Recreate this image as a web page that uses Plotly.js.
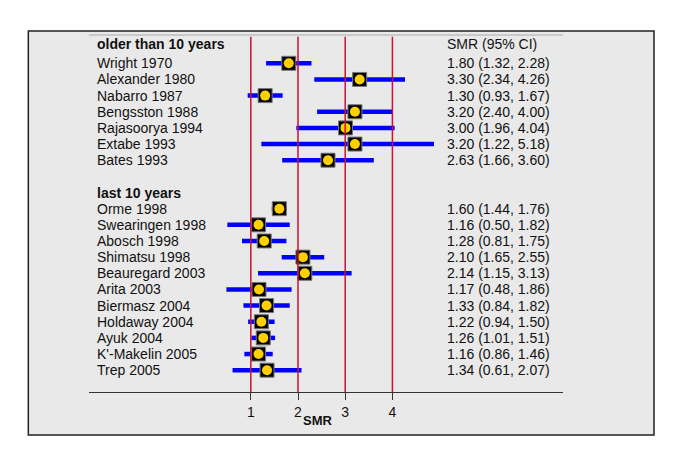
<!DOCTYPE html>
<html>
<head>
<meta charset="utf-8">
<script src="https://cdn.plot.ly/plotly-3.0.1.min.js"></script>
<style>html,body{margin:0;padding:0;background:#fff;}#chart{width:685px;height:462px;}</style>
</head>
<body>
<div id="chart"></div>
<script>
// ---- data ----
const groupTitles = ["older than 10 years", "last 10 years"];
const olderStudies = ["Wright 1970", "Alexander 1980", "Nabarro 1987", "Bengsston 1988", "Rajasoorya 1994", "Extabe 1993", "Bates 1993"];
const olderSMR = [1.80, 3.30, 1.30, 3.20, 3.00, 3.20, 2.63];
const olderLo  = [1.32, 2.34, 0.93, 2.40, 1.96, 1.22, 1.66];
const olderHi  = [2.28, 4.26, 1.67, 4.00, 4.04, 5.18, 3.60];
const recentStudies = ["Orme 1998", "Swearingen 1998", "Abosch 1998", "Shimatsu 1998", "Beauregard 2003", "Arita 2003", "Biermasz 2004", "Holdaway 2004", "Ayuk 2004", "K'-Makelin 2005", "Trep 2005"];
const recentSMR = [1.60, 1.16, 1.28, 2.10, 2.14, 1.17, 1.33, 1.22, 1.26, 1.16, 1.34];
const recentLo  = [1.44, 0.50, 0.81, 1.65, 1.15, 0.48, 0.84, 0.94, 1.01, 0.86, 0.61];
const recentHi  = [1.76, 1.82, 1.75, 2.55, 3.13, 1.86, 1.82, 1.50, 1.51, 1.46, 2.07];
const refLines = [1, 2, 3, 4];
const tickVals = [1, 2, 3, 4];
const colHeader = "SMR (95% CI)";
const axisTitle = "SMR";

// ---- build rows ----
const studies = [], smr = [], lo = [], hi = [], rowY = [];
olderStudies.forEach((s, i) => { studies.push(s); smr.push(olderSMR[i]); lo.push(olderLo[i]); hi.push(olderHi[i]); rowY.push(i); });
const recentStart = olderStudies.length + 2;
recentStudies.forEach((s, i) => { studies.push(s); smr.push(recentSMR[i]); lo.push(recentLo[i]); hi.push(recentHi[i]); rowY.push(recentStart + i); });
const headerY = [-1.2, recentStart - 1];

const FONT = "Liberation Sans, Arial, Helvetica, sans-serif";
const LEFTX = 0.0135, RIGHTX = 0.7515;

const traces = [
  { type: 'scatter', mode: 'markers', x: smr, y: rowY, xaxis: 'x2', yaxis: 'y',
    marker: { size: 1, color: '#0000ff', opacity: 0 },
    error_x: { type: 'data', symmetric: false,
      array: smr.map((v, i) => hi[i] - v), arrayminus: smr.map((v, i) => v - lo[i]),
      color: '#0000ff', thickness: 4.5, width: 0 },
    hoverinfo: 'skip', showlegend: false },
  { type: 'scatter', mode: 'markers', x: smr, y: rowY, xaxis: 'x2', yaxis: 'y',
    marker: { symbol: 'square', size: 14, color: '#000', line: { color: '#777', width: 1 } },
    hoverinfo: 'skip', showlegend: false, cliponaxis: false },
  { type: 'scatter', mode: 'markers', x: smr, y: rowY, xaxis: 'x2', yaxis: 'y',
    marker: { symbol: 'circle', size: 10, color: '#ffd000', line: { width: 0 } },
    hoverinfo: 'skip', showlegend: false, cliponaxis: false },
  { type: 'scatter', mode: 'markers', x: [], y: [], xaxis: 'x', yaxis: 'y', showlegend: false }
];

const annotations = [];
studies.forEach((s, i) => {
  annotations.push({ xref: 'paper', yref: 'y', x: LEFTX, y: rowY[i], text: s, showarrow: false,
    xanchor: 'left', yanchor: 'middle', font: { family: FONT, size: 14, color: '#111' } });
  annotations.push({ xref: 'paper', yref: 'y', x: RIGHTX, y: rowY[i],
    text: smr[i].toFixed(2) + ' (' + lo[i].toFixed(2) + ', ' + hi[i].toFixed(2) + ')', showarrow: false,
    xanchor: 'left', yanchor: 'middle', font: { family: FONT, size: 14, color: '#111' } });
});
groupTitles.forEach((g, k) => {
  annotations.push({ xref: 'paper', yref: 'y', x: LEFTX, y: headerY[k], text: '<b>' + g + '</b>', showarrow: false,
    xanchor: 'left', yanchor: 'middle', font: { family: FONT, size: 14, color: '#111' } });
});
annotations.push({ xref: 'paper', yref: 'y', x: RIGHTX, y: headerY[0], text: colHeader, showarrow: false,
  xanchor: 'left', yanchor: 'middle', font: { family: FONT, size: 14, color: '#111' } });
annotations.push({ xref: 'x', yref: 'paper', x: 2.42, y: -0.081, text: '<b>' + axisTitle + '</b>', showarrow: false,
  xanchor: 'center', yanchor: 'middle', font: { family: FONT, size: 13, color: '#111' } });

const shapes = [
  { type: 'rect', xref: 'paper', yref: 'paper', x0: -0.128, x1: 1.192, y0: -0.1204, y1: 1.0112,
    fillcolor: '#e9e9e9', line: { color: '#222', width: 1.5 }, layer: 'below' },
  { type: 'line', xref: 'paper', yref: 'paper', x0: 0, x1: 1, y0: 1, y1: 1,
    line: { color: '#aaa', width: 1 }, layer: 'below' }
];
refLines.forEach(v => shapes.push({ type: 'line', xref: 'x', yref: 'paper', x0: v, x1: v, y0: 0, y1: 0.995,
  line: { color: '#cc1133', width: 1.5 }, layer: 'above' }));

const layout = {
  width: 685, height: 462,
  margin: { l: 89, r: 122, t: 35, b: 70 },
  paper_bgcolor: '#ffffff', plot_bgcolor: 'rgba(0,0,0,0)',
  showlegend: false,
  xaxis: { domain: [0, 1], range: [-2.428, 7.614], tickvals: tickVals, ticktext: tickVals.map(String),
    ticks: 'outside', ticklen: 7, tickcolor: '#333', tickwidth: 1,
    showgrid: false, zeroline: false, showline: true, linecolor: '#333', linewidth: 1,
    tickfont: { family: FONT, size: 14, color: '#111' }, anchor: 'y', fixedrange: true },
  xaxis2: { domain: [0, 0.7278], range: [-2.428, 4.873], visible: false, anchor: 'y',
    showgrid: false, zeroline: false, fixedrange: true },
  yaxis: { range: [20.35, -1.752], visible: false, showgrid: false, zeroline: false, fixedrange: true },
  annotations: annotations,
  shapes: shapes
};

Plotly.newPlot('chart', traces, layout, { staticPlot: true, displayModeBar: false });
</script>
</body>
</html>
